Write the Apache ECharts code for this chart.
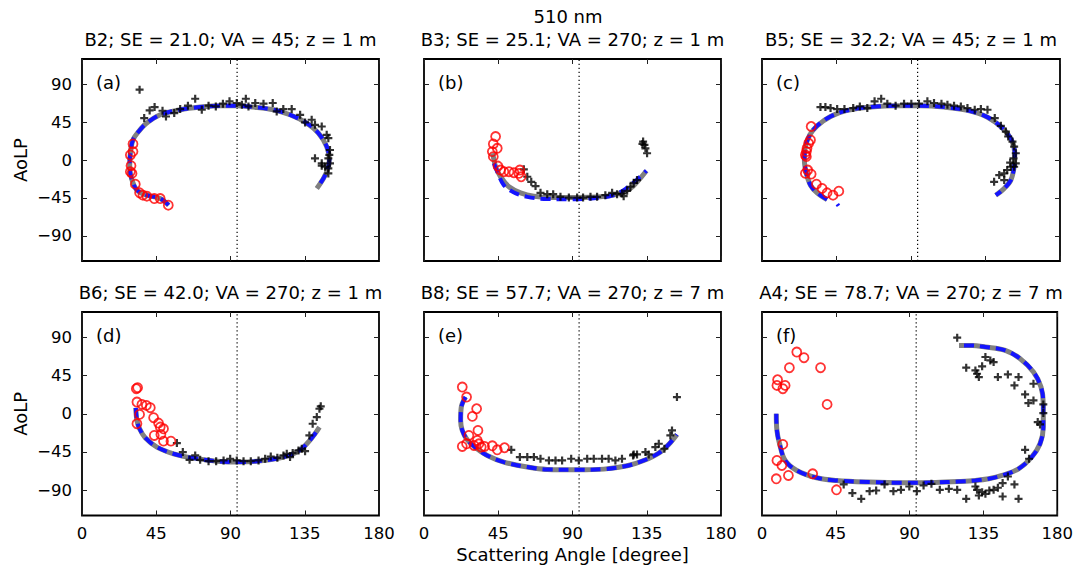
<!DOCTYPE html>
<html>
<head>
<meta charset="utf-8">
<script src="https://cdn.jsdelivr.net/npm/echarts@6/dist/echarts.min.js"></script>
<style>
  html, body { margin: 0; padding: 0; background: #fff; }
  #chart { width: 1076px; height: 571px; }
</style>
</head>
<body>
<div id="chart"></div>
<script>
// AoLP versus scattering angle, 510 nm, six stations.
const wavelengthLabel = '510 nm';
const panelTitles = [
  'B2; SE = 21.0; VA = 45; z = 1 m',
  'B3; SE = 25.1; VA = 270; z = 1 m',
  'B5; SE = 32.2; VA = 45; z = 1 m',
  'B6; SE = 42.0; VA = 270; z = 1 m',
  'B8; SE = 57.7; VA = 270; z = 7 m',
  'A4; SE = 78.7; VA = 270; z = 7 m'
];
const panelLetters = ['(a)', '(b)', '(c)', '(d)', '(e)', '(f)'];
const xTicks = [0, 45, 90, 135, 180];
const yTicks = [-90, -45, 0, 45, 90];
const refAngle = 94;   // dotted reference angle

// (a) B2
const modelA = [[52.5,-53.7],[47.4,-45.8],[39.3,-41.8],[33.3,-35.8],[30.3,-23.9],[28.9,-8],[29.3,8],[30.9,23.9],[34.3,33.8],[38.7,43],[47.4,53.7],[59.5,59.7],[71.6,62.9],[83.7,64.5],[93.8,64.5],[103.9,62.9],[116,59.7],[126.1,53.7],[136.2,43.8],[143.3,31.8],[148.3,15.9],[149.9,0],[148.7,-11.9],[146.3,-21.9],[142.3,-33.8]];
const plusA = [[34.9,83.6],[37.7,49.8],[41,58.9],[44,62.9],[48.8,58.5],[50.9,51.7],[55.9,55.7],[59.5,60.5],[64.2,64.5],[68.6,72.8],[72.6,59.7],[76.7,64.5],[81.1,63.7],[85.4,66.9],[89.4,69.7],[93.8,67.7],[96.9,65.7],[99.3,72.8],[100.9,63.7],[105,67.7],[110,66.9],[115.6,67.7],[118,57.7],[122,60.5],[127.1,60.5],[132.2,53.7],[135.2,44.6],[139.2,47.8],[141.2,41.8],[145.3,39.8],[148.3,29.9],[149.3,25.9],[150.3,11.9],[149.9,6],[141.2,2],[145.3,-4],[149.3,2],[150.3,-4],[149.3,-10],[147.3,-8],[149.3,-15.9],[145.3,-6.8]];
const ringA = [[30.9,19.1],[30.9,10],[29.3,6],[29.7,-6.8],[29.3,-13.9],[30.3,-15.9],[32.3,-28.7],[34.9,-39],[36.9,-41.8],[39.3,-43],[43.8,-45.8],[47.4,-45.8],[52.3,-53.7]];

// (b) B3
const modelB = [[41.6,8],[42,4],[43.4,-8],[46.4,-19.9],[51.5,-31.8],[58.5,-39],[66.6,-43],[78.7,-44.6],[92.8,-44.6],[106.9,-43.8],[117,-40.6],[125.1,-33.8],[130.1,-23.9],[134.8,-12.7]];
const dashB = [[42.4,-4],[44.4,-13.9],[48.4,-29.9],[54.5,-38.6],[62.6,-43.8],[72.6,-46.2],[86.8,-46.6],[102.9,-45.4],[115,-41.8],[123.1,-33],[129.1,-23.1],[134.8,-12.7]];
const plusB = [[60.5,-11.1],[62.6,-19.9],[65,-25.9],[67.6,-31],[70.6,-39],[74.7,-40.6],[78.3,-40.6],[82.7,-43.8],[87.8,-44.6],[92.8,-44.6],[96.4,-44.6],[100.9,-43.8],[104.9,-43.8],[109.9,-41.8],[114,-39],[117,-40.6],[120,-39.8],[121,-43],[123.1,-36.6],[125.1,-31.8],[127.1,-27.1],[129.1,-23.9],[132.8,21.9],[133.6,17.9],[134.2,13.9],[135.2,8],[132.4,19.1]];
const ringB = [[43.4,27.9],[42,19.1],[44.4,13.9],[41.4,10],[42,4],[44.8,-7.2],[46.4,-11.9],[48.4,-13.9],[51.5,-13.9],[54.5,-15.1],[57.5,-15.9],[58.9,-19.9],[58.1,-11.9]];

// (c) B5
const modelC = [[39.3,-47],[33.3,-39],[29.3,-29.9],[26.8,-15.9],[25.6,0],[26.2,15.9],[28.9,29.9],[33.3,40.6],[41.4,51.7],[51.5,58.9],[65.6,62.9],[81.7,64.5],[95.8,64.5],[110,62.9],[124.1,58.9],[136.2,50.9],[145.3,37.8],[150.7,23.9],[152.7,8],[152.3,-8],[150.3,-23.9],[146.3,-33.8],[141.2,-41.8]];
const dashTailC = [[45.5,-52.5],[46.2,-54.5]];
const plusC = [[35.3,62.9],[38.3,62.9],[41.4,61.7],[45.4,60.5],[49.8,60.5],[55.1,61.7],[59.1,63.7],[63.6,61.7],[68,69.7],[72,72.8],[75.7,66.9],[80.7,64.5],[85.8,66.9],[90.2,66.9],[94.8,66.9],[99.9,69.7],[103.9,67.7],[108.4,66.9],[112,65.7],[116,64.5],[120.1,63.7],[124.1,61.7],[128.5,59.7],[132.2,60.5],[136.2,59.7],[140.6,49.8],[144.3,40.6],[147.3,33.8],[148.7,27.9],[151.3,21.9],[152.3,15.9],[153.3,8],[151.9,2],[149.9,-3.2],[153.3,-4],[150.3,-8],[148.1,-11.9],[146.3,-15.9],[143.3,-17.9],[140.2,-25.9],[146.3,-23.9],[152.3,-8]];
const ringC = [[29.7,39.8],[29.3,23.9],[28.2,19.9],[27.2,13.9],[26.8,10],[26.2,6],[26.8,4],[27.6,-11.9],[26.2,-15.9],[29.7,-16.7],[32.9,-28.7],[36.3,-33.8],[39.3,-39],[42.9,-41.8],[46.4,-37]];

// (d) B6
const modelD = [[32.6,7],[33.3,-7.9],[34.9,-17.7],[38.3,-28.3],[45.4,-39.3],[55.5,-47.2],[67.6,-52.3],[81.7,-55.9],[95.8,-57],[110,-55.1],[122.1,-51.1],[131.2,-44.1],[137.2,-33.4],[141.2,-23.6],[143.9,-15.7]];
const plusD = [[57.5,-34.6],[61.1,-45.2],[65.2,-54.3],[68.6,-49.2],[71.6,-54.3],[76.7,-55.9],[81.3,-55.9],[85.8,-55.1],[89.8,-53.1],[93.8,-55.1],[97.9,-55.9],[102.3,-55.9],[107,-55.1],[111,-53.1],[114.4,-50.4],[118.4,-52],[122.1,-49.2],[124.1,-47.2],[126.1,-51.1],[127.7,-46.4],[131.2,-43.3],[133.2,-41.3],[135.2,-44.1],[137.8,-25.6],[139.8,-11.8],[142.3,-3.9],[143.9,5.9],[144.7,8.7]];
const ringD = [[32.9,29.5],[33.7,30.7],[33.3,13.8],[36.3,11],[39,9.8],[41.4,7.1],[34.9,-0.8],[33.3,-11.8],[43.4,-4.7],[46.4,-11],[47.4,-15.7],[49.4,-17.7],[47.8,-24.4],[43.8,-25.6],[49.4,-32.3],[53.9,-32.3]];

// (e) B8
const modelE = [[25.2,19.7],[22.6,7.9],[22.2,-7.9],[23.2,-19.7],[26.2,-30.7],[31.3,-40.1],[38.3,-49.2],[48.4,-57],[62.6,-62.9],[74.7,-65.7],[92.8,-66.1],[109,-65.3],[123.1,-61.4],[133.2,-55.1],[142.3,-46.4],[148.3,-36.2],[153.3,-24.4]];
const plusE = [[52.9,-42.5],[58.1,-51.1],[62.6,-51.1],[66.6,-51.1],[70.6,-53.1],[75.7,-55.1],[79.7,-55.1],[83.7,-55.1],[89.2,-53.1],[93.8,-55.1],[98.9,-53.1],[102.9,-53.1],[107.9,-53.1],[111.9,-53.1],[116,-55.1],[120,-53.1],[126.7,-49.2],[127.1,-48],[129.1,-48],[134.2,-45.2],[136.2,-48],[140.2,-39.3],[142.3,-35.4],[145.7,-41.3],[149.3,-25.6],[150.3,-19.7],[153.3,19.7]];
const ringE = [[23.2,31.5],[25.8,19.7],[31.9,5.9],[29.3,-3.1],[32.7,-19.7],[27.2,-25.6],[32.3,-31.5],[33.3,-35.4],[30.3,-37.4],[23.2,-38.6],[25.8,-35.4],[36.7,-38.6],[41.4,-37.8],[44.4,-42.5],[48.8,-40.1],[34.7,-39.3]];

// (f) A4
const modelF = [[8.7,0],[9.1,-19.7],[10.7,-35.4],[14.1,-55.1],[21.2,-66.9],[33.3,-75.5],[45.4,-78.7],[65.6,-80.6],[85.8,-81.4],[105.9,-81],[120.1,-79.9],[130.1,-78.7],[138.2,-76.7],[146.3,-72.8],[156.4,-64.9],[164.4,-51.1],[169.5,-35.4],[171.5,-15.7],[171.5,11.8],[170.1,31.5],[165.5,49.2],[157.4,64.9],[148.3,74.7],[136.2,78.7],[128.1,80.6],[120.1,80.6]];
const plusF = [[119,89.7],[124.5,54.3],[130.1,51.1],[131.1,47.2],[132.2,43.3],[134.2,55.9],[136.2,66.9],[139.2,62.9],[141.2,61],[143.8,43.3],[149.9,46.4],[153.9,33.4],[156.4,43.3],[165.5,35.4],[160.4,22.8],[162.4,12.6],[165.5,15.7],[171.5,11],[171.5,0.8],[168.1,-9.8],[169.5,-12.6],[160.4,-42.5],[162.8,-53.1],[149.9,-74],[146.7,-81.8],[153.9,-83.4],[156.4,-100.3],[146.7,-97.6],[143.8,-87.3],[141.2,-89.7],[138.6,-90.5],[136.2,-94.4],[134.2,-92.5],[132.2,-96.4],[131.1,-89.7],[130.1,-85.8],[124.5,-100.3],[119,-89.7],[113.9,-88.5],[108.4,-89.7],[103.3,-82.6],[98.5,-84.6],[94.4,-91.3],[89.8,-85.8],[84.7,-89.7],[80.1,-91.3],[74.7,-83.4],[69.6,-90.5],[65.6,-91.3],[60.5,-100.3],[55.1,-93.6],[49.8,-83.4]];
const ringF = [[21.2,72.8],[25.6,66.1],[16.7,54.3],[35.7,54.3],[9.5,40.1],[9.1,33.4],[14.1,33.4],[12.7,29.5],[39.7,11],[12.7,-36.2],[9.1,-55.1],[12.1,-61],[16.1,-72.8],[8.7,-76.7],[30.9,-70.8],[45.4,-89.7]];

const panels = [
  { model: modelA, dash: [modelA], plus: plusA, ring: ringA },
  { model: modelB, dash: [dashB], plus: plusB, ring: ringB },
  { model: modelC, dash: [modelC, dashTailC], plus: plusC, ring: ringC },
  { model: modelD, dash: [modelD], plus: plusD, ring: ringD },
  { model: modelE, dash: [modelE], plus: plusE, ring: ringE },
  { model: modelF, dash: [modelF], plus: plusF, ring: ringF }
];

// ---- layout ----
const FONT = '"DejaVu Sans", "Liberation Sans", Arial, sans-serif';
const boxes = [
  [82, 59, 297, 202], [424, 59, 297, 202], [762, 59, 298, 202],
  [82, 312, 297, 203.5], [424, 312, 297, 203.5], [762, 312, 298, 203.5]
];
const PLUS = 'path://M2.9,0H5.1V2.9H8V5.1H5.1V8H2.9V5.1H0V2.9H2.9Z';
const minusSign = v => String(v).replace('-', '\u2212');

const option = {
  animation: false,
  backgroundColor: '#fff',
  grid: [], xAxis: [], yAxis: [], series: [], graphic: []
};

boxes.forEach((b, i) => {
  const bottomRow = i >= 3;
  const leftCol = i % 3 === 0;
  option.grid.push({
    left: b[0], top: b[1], width: b[2], height: b[3],
    show: true, borderColor: '#000', borderWidth: 1.8, backgroundColor: 'transparent'
  });
  const tick = { show: true, inside: true, length: 5, lineStyle: { color: '#222', width: 1 } };
  const xBase = {
    type: 'value', gridIndex: i, min: 0, max: 180, interval: 45,
    axisLine: { show: false, onZero: false }, axisTick: tick, splitLine: { show: false }
  };
  option.xAxis.push(Object.assign({}, xBase, {
    position: 'bottom',
    axisLabel: { show: bottomRow, color: '#000', fontSize: 16.5, fontFamily: FONT, margin: 9 },
    name: i === 4 ? 'Scattering Angle [degree]' : '',
    nameLocation: 'middle', nameGap: 30,
    nameTextStyle: { color: '#000', fontSize: 18, fontFamily: FONT }
  }));
  option.xAxis.push(Object.assign({}, xBase, { position: 'top', axisLabel: { show: false } }));
  const yBase = {
    type: 'value', gridIndex: i, min: -120, max: 120,
    axisLine: { show: false, onZero: false },
    axisTick: Object.assign({}, tick, { customValues: yTicks }),
    splitLine: { show: false }
  };
  option.yAxis.push(Object.assign({}, yBase, {
    position: 'left',
    axisLabel: { show: leftCol, customValues: yTicks, formatter: minusSign,
                 color: '#000', fontSize: 16.5, fontFamily: FONT, margin: 10 },
    name: leftCol ? 'AoLP' : '', nameLocation: 'middle', nameGap: 53,
    nameTextStyle: { color: '#000', fontSize: 18, fontFamily: FONT }
  }));
  option.yAxis.push(Object.assign({}, yBase, { position: 'right', axisLabel: { show: false } }));

  const ax = { xAxisIndex: 2 * i, yAxisIndex: 2 * i, silent: true };
  const p = panels[i];
  option.series.push(Object.assign({
    type: 'line', data: [[refAngle, -120], [refAngle, 120]], showSymbol: false,
    lineStyle: { color: '#000', width: 1.2, type: [1.2, 2.8] }, z: 1
  }, ax));
  option.series.push(Object.assign({
    type: 'line', data: p.model, smooth: 0.35, showSymbol: false,
    lineStyle: { color: '#808080', width: 5 }, z: 2
  }, ax));
  p.dash.forEach(seg => option.series.push(Object.assign({
    type: 'line', data: seg, smooth: 0.35, showSymbol: false,
    lineStyle: { color: '#1414ff', width: 4, type: [10, 6] }, z: 3
  }, ax)));
  option.series.push(Object.assign({
    type: 'scatter', data: p.plus, symbol: PLUS, symbolSize: 8,
    itemStyle: { color: '#000' }, z: 4
  }, ax));
  option.series.push(Object.assign({
    type: 'scatter', data: p.ring, symbol: 'circle', symbolSize: 9,
    itemStyle: { color: 'rgba(0,0,0,0)', borderColor: '#ff0000', borderWidth: 1.8 }, z: 5
  }, ax));

  option.graphic.push({
    type: 'text', x: b[0] + b[2] / 2, y: b[1] - 20, silent: true,
    style: { text: panelTitles[i], fill: '#000', font: '18px ' + FONT, align: 'center', verticalAlign: 'middle' }
  });
  option.graphic.push({
    type: 'text', x: b[0] + 14, y: b[1] + 23, silent: true,
    style: { text: panelLetters[i], fill: '#000', font: '18px ' + FONT, align: 'left', verticalAlign: 'middle' }
  });
});

option.graphic.push({
  type: 'text', x: 568, y: 16, silent: true,
  style: { text: wavelengthLabel, fill: '#000', font: '18px ' + FONT, align: 'center', verticalAlign: 'middle' }
});

const chart = echarts.init(document.getElementById('chart'), null, { renderer: 'svg' });
chart.setOption(option);
</script>
</body>
</html>
